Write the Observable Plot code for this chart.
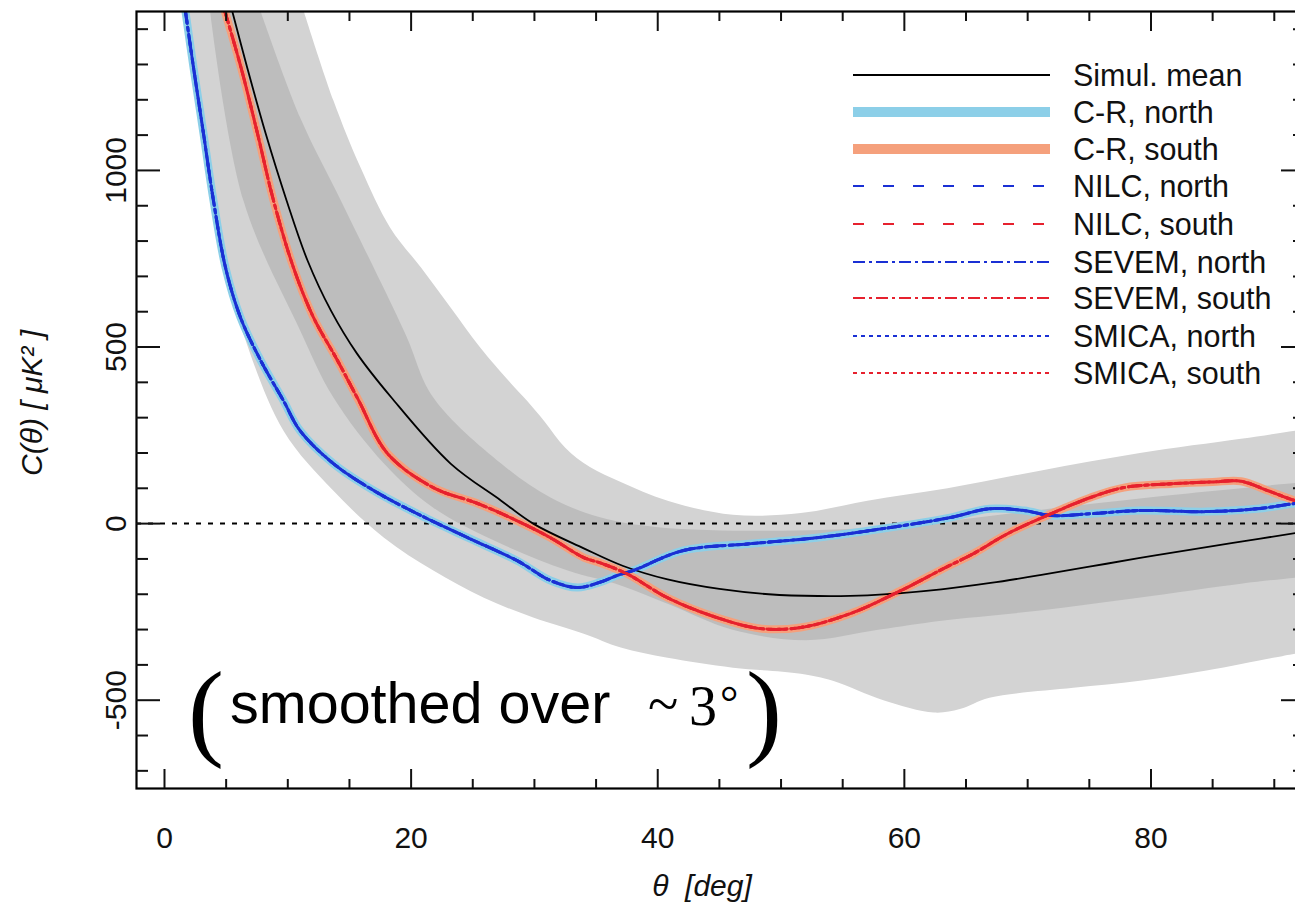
<!DOCTYPE html>
<html><head><meta charset="utf-8">
<script src="https://cdn.jsdelivr.net/npm/d3@7"></script>
<script src="https://cdn.jsdelivr.net/npm/@observablehq/plot@0.6"></script>
<style>
html,body{margin:0;padding:0;background:#fff;overflow:hidden;}
#wrap{position:relative;width:1295px;height:910px;overflow:hidden;}
#wrap svg{position:absolute;left:0;top:0;}
</style></head><body><div id="wrap"></div>
<script>
// ---- data (theta in deg, C in muK^2) ----
const meanTheta = [5.5,6.7,8.2,9.9,11.6,13.5,15.6,18.4,23.2,27.3,29.9,34,37.2,40.8,45,49,53,57,63,67,71,75,79,83,87.3,91.7,93.5];
const meanC     = [1450,1292,1105,915,745,603,482,357,170,65,0,-70,-120,-158,-185,-200,-205,-203,-186,-168,-146,-122,-98,-75,-51,-27,-17];

const northTheta = [1.7,2.35,3.16,3.97,4.95,6.16,7.8,9.65,11.0,13.7,17.0,20.5,24.6,28.6,31.3,33.5,35.4,36.7,38,42.1,47.5,52.9,58.3,63.7,66.9,69.7,71.9,75.1,79.1,84.5,88.6,91.7,93.5];
const northC     = [1450,1292,1105,915,725,584,462,348,263,170,93,28,-40,-105,-161,-181,-165,-147,-133,-76,-57,-40,-14,17,42,37,23,28,37,34,42,57,62];

const southTheta = [4.9,6.2,7.54,8.84,10.46,12.08,14.03,15.7,18.1,21.8,25.4,28.6,31.3,34,35.4,37.5,40.8,44.8,48.3,51.6,55.6,59.7,63.3,65.6,68.4,71.9,75.1,77.8,81.8,85,87.3,89.5,91.7,93.5];
const southC     = [1450,1292,1105,915,725,584,462,352,198,102,57,8,-40,-96,-112,-142,-210,-266,-297,-294,-255,-190,-125,-85,-28,28,74,102,113,118,120,93,65,50];

const outerUpTheta = [11.3,13.7,15.9,18.3,20.8,23.2,25.6,28.1,29.4,30.8,32.5,34.5,37,40.8,46.1,51.6,57,63.5,71,79.1,87.3,91.7,93.5];
const outerUpC     = [1450,1198,1008,838,725,612,499,397,348,290,215,160,118,65,25,30,65,100,150,200,240,263,270];
const outerLoTheta = [1.5,2.2,3.0,3.85,4.85,6.3,9.65,13.7,17.8,21.8,25.9,29.9,34,37,40.8,46.1,51.6,54.2,58.3,62.4,64.5,66.9,73.7,79.1,84.5,89.9,91.7,93.5];
const outerLoC     = [1450,1292,1105,915,725,547,263,93,-40,-133,-210,-266,-312,-351,-380,-408,-425,-445,-500,-535,-525,-493,-465,-445,-416,-380,-368,-360];

const innerUpTheta = [7.8,11,14.3,19.5,21.8,27.3,31.3,35.4,40,50,60,70,80,91.7,93.5];
const innerUpC     = [1450,1150,915,540,357,170,74,17,-10,-20,-5,35,75,115,120];
const innerLoTheta = [3.7,6.4,11.0,13.7,17.8,21.8,27.3,32.7,37,41,46,52,58,63,71,79,87.3,91.7,93.5];
const innerLoC     = [1450,915,547,357,170,45,-57,-133,-175,-230,-300,-330,-300,-275,-246,-210,-170,-153,-147];

const xMajorTicks = [0,20,40,60,80];
const xMinorTicks = [5,10,15,25,30,35,45,50,55,65,70,75,85,90];
const yMajorTicks = [-500,0,500,1000];
const yMinorTicks = [-700,-600,-400,-300,-200,-100,100,200,300,400,600,700,800,900,1100,1200,1300,1400];

const legendLabels = ["Simul. mean","C-R, north","C-R, south","NILC, north","NILC, south","SEVEM, north","SEVEM, south","SMICA, north","SMICA, south"];

// ---- helpers ----
const pts = (t, c) => t.map((d, i) => ({theta: d, C: c[i]}));
const band = (ut, uc, lt, lc) => [...pts(ut, uc), ...pts(lt, lc).reverse()];

const BLUE = "#1a30d4", RED = "#e6212e", CRN = "#8ccfe8", CRS = "#f5a07c";
const styles = [
  {stroke:"#000", w:1.8, dash:null},
  {stroke:CRN, w:10, dash:null},
  {stroke:CRS, w:10, dash:null},
  {stroke:BLUE, w:2.2, dash:"11,19"},
  {stroke:RED, w:2.2, dash:"11,19"},
  {stroke:BLUE, w:2.2, dash:"12,4,3,4"},
  {stroke:RED, w:2.2, dash:"12,4,3,4"},
  {stroke:BLUE, w:2.2, dash:"4,4"},
  {stroke:RED, w:2.2, dash:"4,4"}
];

const north = pts(northTheta, northC), south = pts(southTheta, southC);
const CURVE = "catmull-rom";
const curve = (data, s, w) => Plot.line(data, {x:"theta", y:"C", stroke:s.stroke, strokeWidth:w ?? s.w, strokeDasharray:s.dash, curve:CURVE, clip:true});

const chart = Plot.plot({
  width:1295, height:910,
  marginLeft:136, marginTop:11, marginBottom:122, marginRight:-9,
  x:{domain:[-2.27, 92.45]},
  y:{domain:[-750, 1450]},
  style:{fontFamily:'"Liberation Sans", Arial, sans-serif', fontSize:"30px", color:"#111", background:"white"},
  marks:[
    Plot.line(band(outerUpTheta, outerUpC, outerLoTheta, outerLoC), {x:"theta", y:"C", fill:"#d3d3d3", stroke:"none", curve:CURVE, clip:true}),
    Plot.line(band(innerUpTheta, innerUpC, innerLoTheta, innerLoC), {x:"theta", y:"C", fill:"#bdbdbd", stroke:"none", curve:CURVE, clip:true}),
    Plot.ruleY([0], {stroke:"#000", strokeWidth:2, strokeDasharray:"5,7"}),
    curve(north, styles[1], 8),
    curve(south, styles[2], 8),
    Plot.line(pts(meanTheta, meanC), {x:"theta", y:"C", stroke:"#000", strokeWidth:1.8, curve:CURVE, clip:true}),
    curve(north, styles[3], 3), curve(north, styles[5], 3), curve(north, styles[7], 3),
    curve(south, styles[4], 3), curve(south, styles[6], 3), curve(south, styles[8], 3),
    Plot.frame({stroke:"#000", strokeWidth:2.2}),
    Plot.axisX({anchor:"bottom", ticks:xMajorTicks, tickSize:-19, strokeWidth:2, tickFormat:() => "", label:null}),
    Plot.axisX({anchor:"bottom", ticks:xMinorTicks, tickSize:-9, strokeWidth:2, tickFormat:() => "", label:null}),
    Plot.axisX({anchor:"top", ticks:xMajorTicks, tickSize:-19, strokeWidth:2, tickFormat:() => "", label:null}),
    Plot.axisX({anchor:"top", ticks:xMinorTicks, tickSize:-9, strokeWidth:2, tickFormat:() => "", label:null}),
    Plot.axisY({anchor:"left", ticks:yMajorTicks, tickSize:-24, strokeWidth:2, tickFormat:() => "", label:null}),
    Plot.axisY({anchor:"left", ticks:yMinorTicks, tickSize:-12, strokeWidth:2, tickFormat:() => "", label:null}),
    Plot.axisY({anchor:"right", ticks:yMajorTicks, tickSize:-24, strokeWidth:2, tickFormat:() => "", label:null}),
    Plot.axisY({anchor:"right", ticks:yMinorTicks, tickSize:-12, strokeWidth:2, tickFormat:() => "", label:null}),
    Plot.text(xMajorTicks, {x:d => d, frameAnchor:"bottom", dy:50, text:d => String(d), lineAnchor:"middle", fill:"#111"}),
    Plot.text(yMajorTicks, {y:d => d, frameAnchor:"left", dx:-11, rotate:-90, textAnchor:"middle", lineAnchor:"bottom", text:d => String(d), fill:"#111"})
  ]
});
const wrap = document.getElementById("wrap");
wrap.appendChild(chart);

// ---- overlay: axis titles, legend, annotation ----
const NS = "http://www.w3.org/2000/svg";
const ov = document.createElementNS(NS, "svg");
ov.setAttribute("width", 1295); ov.setAttribute("height", 910);
ov.style.pointerEvents = "none";
wrap.appendChild(ov);
function txt(x, y, s, attrs) {
  const t = document.createElementNS(NS, "text");
  t.setAttribute("x", x); t.setAttribute("y", y); t.textContent = s;
  for (const k in attrs) t.setAttribute(k, attrs[k]);
  ov.appendChild(t); return t;
}
const SANS = '"Liberation Sans", Arial, sans-serif', SERIF = '"Liberation Serif", "Times New Roman", serif';
// axis titles
txt(0, 0, "C(θ) [ μK² ]", {transform:"translate(42,403) rotate(-90)", "text-anchor":"middle", "font-family":SANS, "font-size":30, "font-style":"italic", fill:"#111"});
txt(702, 896, "θ  [deg]", {"text-anchor":"middle", "font-family":SANS, "font-size":30, "font-style":"italic", fill:"#111", style:"white-space:pre"});
// legend
const rowY = [75,112,149,186,224,262,298,336,373];
legendLabels.forEach((lab, i) => {
  const s = styles[i];
  const l = document.createElementNS(NS, "line");
  l.setAttribute("x1", 853); l.setAttribute("x2", 1050);
  l.setAttribute("y1", rowY[i]); l.setAttribute("y2", rowY[i]);
  l.setAttribute("stroke", s.stroke); l.setAttribute("stroke-width", s.w);
  if (s.dash) l.setAttribute("stroke-dasharray", s.dash);
  ov.appendChild(l);
  txt(1073, rowY[i] + 11, lab, {"font-family":SANS, "font-size":30.5, fill:"#111"});
});
// annotation
txt(188, 746, "(", {"font-family":SERIF, "font-size":108, fill:"#000"});
txt(230, 723, "smoothed over", {"font-family":SANS, "font-size":57.5, fill:"#000"});
txt(648, 723, "~", {"font-family":SERIF, "font-size":56, fill:"#000"});
txt(689, 725, "3", {"font-family":SERIF, "font-size":56, fill:"#000"});
txt(720, 718, "°", {"font-family":SERIF, "font-size":46, fill:"#000"});
txt(746, 746, ")", {"font-family":SERIF, "font-size":108, fill:"#000"});
</script></body></html>
